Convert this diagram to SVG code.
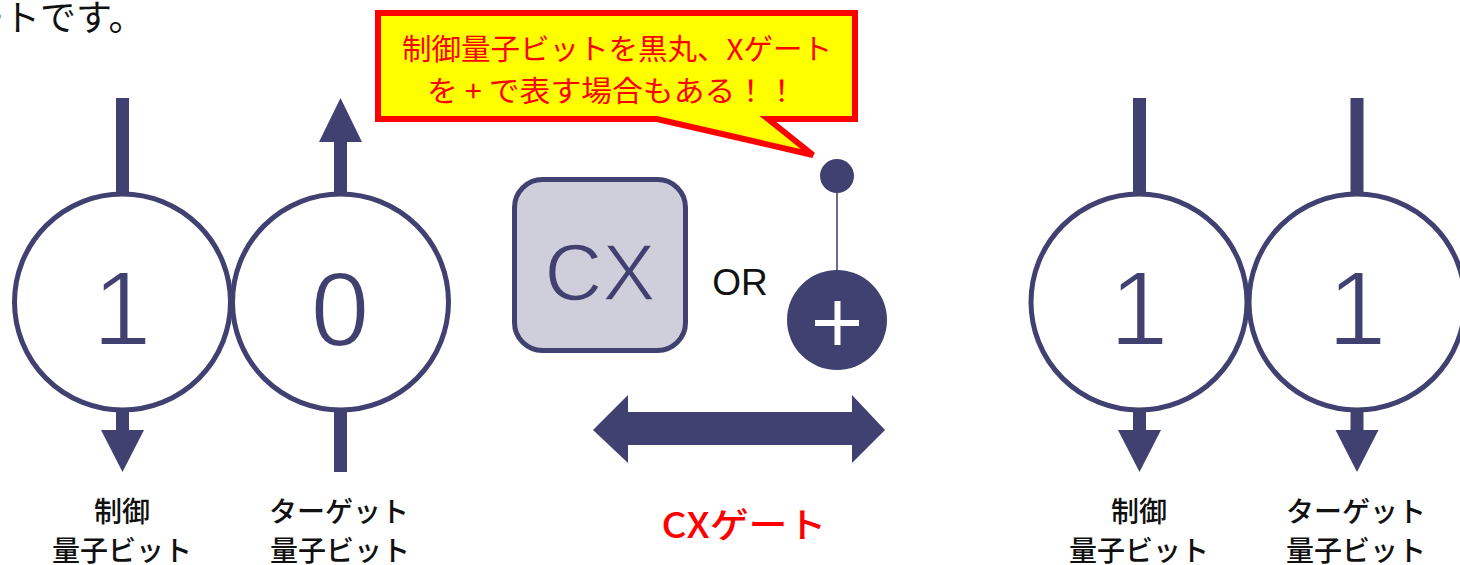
<svg xmlns="http://www.w3.org/2000/svg" width="1460" height="565" viewBox="0 0 1460 565">
<style>
.q{fill:#fff;stroke:#414171;stroke-width:5}
.num{font-family:"Liberation Sans",Arial,sans-serif;font-size:106px;fill:#414171;text-anchor:middle;stroke:#fff;stroke-width:2;paint-order:normal}
.lbl{font-family:"Noto Sans CJK JP",sans-serif;font-size:28px;fill:#111;text-anchor:middle;font-weight:500}
.stem{stroke:#414171;stroke-width:13;fill:none}
.head{fill:#414171}
.red{font-family:"Noto Sans CJK JP",sans-serif;fill:#ff0000;text-anchor:middle}
</style>
<rect width="1460" height="565" fill="#fff"/>
<text x="-32" y="31" font-family="'Noto Sans CJK JP',sans-serif" font-size="36" fill="#111">ートです。</text>

<g id="connectors">
  <line class="stem" x1="122.5" y1="98" x2="122.5" y2="194"/>
  <line class="stem" x1="122.5" y1="410" x2="122.5" y2="432"/>
  <polygon class="head" points="101,430 144,430 122.5,472"/>
  <line class="stem" x1="340.5" y1="140" x2="340.5" y2="194"/>
  <polygon class="head" points="319,142 362,142 340.5,98"/>
  <line class="stem" x1="340.5" y1="410" x2="340.5" y2="472"/>
  <line class="stem" x1="1139.5" y1="98" x2="1139.5" y2="194"/>
  <line class="stem" x1="1139.5" y1="410" x2="1139.5" y2="432"/>
  <polygon class="head" points="1118,430 1161,430 1139.5,472"/>
  <line class="stem" x1="1357" y1="98" x2="1357" y2="194"/>
  <line class="stem" x1="1357" y1="410" x2="1357" y2="432"/>
  <polygon class="head" points="1335.5,430 1378.5,430 1357,472"/>
  <polygon class="head" points="593,430 628,395 628,412 852,412 852,395 885,430 852,463 852,445 628,445 628,463"/>
  <line x1="837" y1="190" x2="837" y2="272" stroke="#6a6a90" stroke-width="2"/>
</g>

<g id="left-control">
  <circle class="q" cx="122.5" cy="302" r="108"/>
  <text class="num" x="122" y="345">1</text>
  <text class="lbl" x="122" y="522">制御</text>
  <text class="lbl" x="122" y="561">量子ビット</text>
</g>
<g id="left-target">
  <circle class="q" cx="340.5" cy="302" r="108"/>
  <text class="num" x="340" y="346">0</text>
  <text class="lbl" x="339" y="522">ターゲット</text>
  <text class="lbl" x="340" y="561">量子ビット</text>
</g>
<g id="right-control">
  <circle class="q" cx="1139" cy="302" r="108"/>
  <text class="num" x="1139" y="345">1</text>
  <text class="lbl" x="1139" y="522">制御</text>
  <text class="lbl" x="1139" y="561">量子ビット</text>
</g>
<g id="right-target">
  <circle class="q" cx="1357" cy="302" r="108"/>
  <text class="num" x="1357" y="345">1</text>
  <text class="lbl" x="1356" y="522">ターゲット</text>
  <text class="lbl" x="1356" y="561">量子ビット</text>
</g>

<g id="cx-box">
  <rect x="514.5" y="179.5" width="171" height="171" rx="28" fill="#cfcfdc" stroke="#414171" stroke-width="5"/>
  <text x="600" y="300" font-family="'Liberation Sans',Arial,sans-serif" font-size="80" fill="#414171" stroke="#cfcfdc" stroke-width="1.5" text-anchor="middle">CX</text>
</g>
<g id="or-label">
  <text x="740" y="295" font-family="'Liberation Sans',Arial,sans-serif" font-size="37" fill="#111" text-anchor="middle">OR</text>
</g>
<g id="control-dot">
  <circle cx="837" cy="176" r="17" fill="#414171"/>
</g>
<g id="target-plus">
  <circle cx="837" cy="320" r="50" fill="#414171"/>
  <line x1="815" y1="323" x2="859" y2="323" stroke="#fff" stroke-width="6"/>
  <line x1="837.5" y1="301" x2="837.5" y2="345" stroke="#fff" stroke-width="6"/>
</g>

<g id="callout">
  <path d="M378,13 H855 V119 H768 L813,155 L657,119 H378 Z" fill="#ffff00" stroke="#ff0000" stroke-width="6" stroke-linejoin="miter"/>
  <text class="red" x="617" y="60" font-size="29" textLength="430" lengthAdjust="spacingAndGlyphs">制御量子ビットを黒丸、Xゲート</text>
  <text class="red" x="612" y="102" font-size="29" textLength="370" lengthAdjust="spacingAndGlyphs">を + で表す場合もある！！</text>
</g>

<g id="cx-gate-label">
  <text class="red" x="744" y="538" font-size="35" textLength="165" lengthAdjust="spacingAndGlyphs" font-weight="500">CXゲート</text>
</g>
</svg>
